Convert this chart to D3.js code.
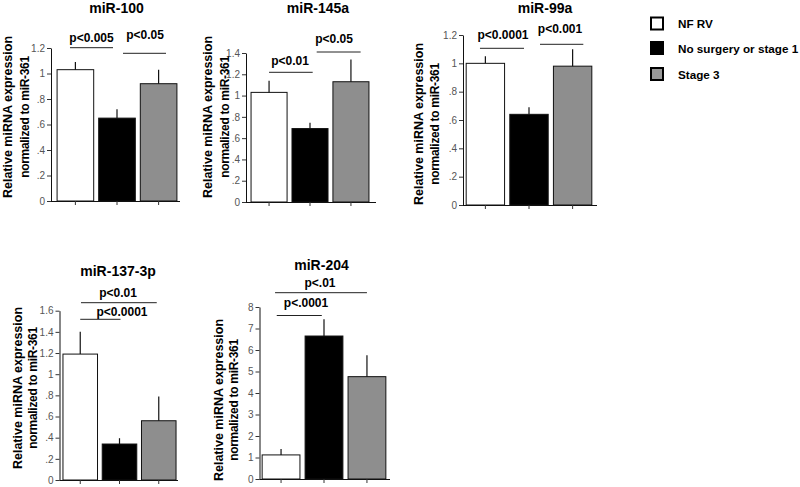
<!DOCTYPE html>
<html><head><meta charset="utf-8">
<script src="https://cdn.jsdelivr.net/npm/d3@7"></script>
<style>
body{margin:0;background:#fff;}
text{font-family:"Liberation Sans",Arial,sans-serif;}
</style></head>
<body><svg id="c" width="800" height="487"></svg>
<script>
// ---------- data ----------
const groups = ["NF RV", "No surgery or stage 1", "Stage 3"];
const groupColors = ["#ffffff", "#000000", "#8e8e8e"];
const titles = ["miR-100", "miR-145a", "miR-99a", "miR-137-3p", "miR-204"];
const yLabelLine1 = "Relative miRNA expression";
const yLabelLine2 = "normalized to miR-361";

const mean100 = [1.03, 0.65, 0.92];
const err100  = [0.06, 0.07, 0.11];
const mean145 = [1.03, 0.69, 1.13];
const err145  = [0.11, 0.055, 0.21];
const mean99  = [1.00, 0.64, 0.98];
const err99   = [0.05, 0.05, 0.12];
const mean137 = [1.19, 0.34, 0.56];
const err137  = [0.21, 0.055, 0.23];
const mean204 = [1.12, 6.65, 4.76];
const err204  = [0.28, 0.78, 1.0];

const ticks100 = [0, 0.2, 0.4, 0.6, 0.8, 1, 1.2];
const ticks145 = [0, 0.2, 0.4, 0.6, 0.8, 1, 1.2, 1.4];
const ticks99  = [0, 0.2, 0.4, 0.6, 0.8, 1, 1.2];
const ticks137 = [0, 0.2, 0.4, 0.6, 0.8, 1, 1.2, 1.4, 1.6];
const ticks204 = [0, 1, 2, 3, 4, 5, 6, 7, 8];

// significance comparisons: [groupA, groupB, label]
const sig100 = [[0, 1, "p<0.005"], [1, 2, "p<0.05"]];
const sig145 = [[0, 1, "p<0.01"], [1, 2, "p<0.05"]];
const sig99  = [[0, 1, "p<0.0001"], [1, 2, "p<0.001"]];
const sig137 = [[0, 2, "p<0.01"], [0, 1, "p<0.0001"]];
const sig204 = [[0, 2, "p<.01"], [0, 1, "p<.0001"]];

// ---------- layout ----------
const panels = [
  {title: titles[0], mean: mean100, err: err100, ticks: ticks100, sig: sig100,
   ax: 51, axEnd: 180, band: [55, 179], y0: 201, yTop: 48,
   titlePos: [116.5, 13], ylab: [12, 29, 117],
   br: [{d1: -5.4, d2: -4, y: 47.7, tx: 91.5, ty: 42}, {d1: 6, d2: 7.4, y: 53.3, tx: 145, ty: 38.5}]},
  {title: titles[1], mean: mean145, err: err145, ticks: ticks145, sig: sig145,
   ax: 246, axEnd: 376, band: [249, 371], y0: 202, yTop: 53,
   titlePos: [318, 13], ylab: [212, 229, 117],
   br: [{d1: 0, d2: 2.7, y: 72.3, tx: 290, ty: 65}, {d1: 6.7, d2: 9.7, y: 52, tx: 334, ty: 43.3}]},
  {title: titles[2], mean: mean99, err: err99, ticks: ticks99, sig: sig99,
   ax: 463, axEnd: 597, band: [464, 594], y0: 205, yTop: 35,
   titlePos: [545, 13], ylab: [423, 439, 124],
   br: [{d1: -5.4, d2: -5, y: 48.3, tx: 503, ty: 39.3}, {d1: 11, d2: 10.7, y: 44.3, tx: 560, ty: 33.3}]},
  {title: titles[3], mean: mean137, err: err137, ticks: ticks137, sig: sig137,
   ax: 59.5, axEnd: 178, band: [61, 178], y0: 480, yTop: 310.7,
   titlePos: [118, 276], ylab: [22, 37, 388],
   br: [{d1: 0.75, d2: -2, y: 302.7, tx: 118, ty: 296.7}, {d1: 0, d2: 1, y: 319.3, tx: 122, ty: 316}]},
  {title: titles[4], mean: mean204, err: err204, ticks: ticks204, sig: sig204,
   ax: 259.5, axEnd: 390, band: [260, 388], y0: 479, yTop: 307,
   titlePos: [321.5, 270], ylab: [223, 238, 400],
   br: [{d1: -6, d2: 0, y: 292.7, tx: 320, ty: 286.7}, {d1: -4.3, d2: -2.2, y: 315.5, tx: 306, ty: 306.7}]}
];

const svg = d3.select("#c");
const fmt = d => d === 0 ? "0" : (d < 1 ? String(d).replace(/^0/, "") : String(d));

panels.forEach(p => {
  const g = svg.append("g");
  const x = d3.scaleBand().domain(d3.range(groups.length)).range(p.band).paddingInner(0.12).paddingOuter(0.05);
  const y = d3.scaleLinear().domain([0, d3.max(p.ticks)]).range([p.y0, p.yTop]);

  // bars
  g.selectAll("rect.bar").data(p.mean).join("rect")
    .attr("x", (d, i) => x(i)).attr("width", x.bandwidth())
    .attr("y", d => y(d)).attr("height", d => y(0) - y(d))
    .attr("fill", (d, i) => groupColors[i])
    .attr("stroke", "#111").attr("stroke-width", 1);

  // error bars (upper only)
  g.selectAll("line.err").data(p.mean).join("line")
    .attr("x1", (d, i) => x(i) + x.bandwidth() / 2).attr("x2", (d, i) => x(i) + x.bandwidth() / 2)
    .attr("y1", d => y(d)).attr("y2", (d, i) => y(d + p.err[i]))
    .attr("stroke", "#111").attr("stroke-width", 1.2);

  // y axis
  const ya = g.append("g").attr("transform", `translate(${p.ax},0)`)
    .call(d3.axisLeft(y).tickValues(p.ticks).tickFormat(fmt).tickSize(4).tickPadding(2).tickSizeOuter(0));
  ya.select(".domain").attr("stroke", "#111");
  ya.selectAll(".tick line").attr("stroke", "#333");
  ya.selectAll("text").attr("font-size", 10).attr("fill", "#555");

  // x axis
  g.append("line").attr("x1", p.ax).attr("x2", p.axEnd).attr("y1", p.y0 + 0.5).attr("y2", p.y0 + 0.5)
    .attr("stroke", "#111");
  g.selectAll("line.xt").data(groups).join("line")
    .attr("x1", (d, i) => x(i) + x.bandwidth() / 2).attr("x2", (d, i) => x(i) + x.bandwidth() / 2)
    .attr("y1", p.y0).attr("y2", p.y0 + 4).attr("stroke", "#333");

  // title
  g.append("text").attr("x", p.titlePos[0]).attr("y", p.titlePos[1])
    .attr("text-anchor", "middle").attr("font-size", 14).attr("font-weight", "bold").text(p.title);

  // y label
  g.append("text").attr("transform", `translate(${p.ylab[0]},${p.ylab[2]}) rotate(-90)`)
    .attr("text-anchor", "middle").attr("font-size", 12.5).attr("font-weight", "bold").text(yLabelLine1);
  g.append("text").attr("transform", `translate(${p.ylab[1]},${p.ylab[2]}) rotate(-90)`)
    .attr("text-anchor", "middle").attr("font-size", 12).attr("letter-spacing", -0.3)
    .attr("font-weight", "bold").text(yLabelLine2);

  // significance brackets
  p.sig.forEach((s, k) => {
    const b = p.br[k];
    const xa = x(s[0]) + x.bandwidth() / 2 + b.d1;
    const xb = x(s[1]) + x.bandwidth() / 2 + b.d2;
    g.append("line").attr("x1", xa).attr("x2", xb).attr("y1", b.y).attr("y2", b.y)
      .attr("stroke", "#222").attr("stroke-width", 1);
    g.append("text").attr("x", b.tx).attr("y", b.ty).attr("text-anchor", "middle")
      .attr("font-size", 12).attr("font-weight", "bold").text(s[2]);
  });
});

// legend
const lg = svg.append("g");
const legendY = [17.5, 42, 68];
groups.forEach((name, i) => {
  lg.append("rect").attr("x", 651).attr("y", legendY[i]).attr("width", 12).attr("height", 12)
    .attr("fill", groupColors[i] === "#8e8e8e" ? "#999" : groupColors[i])
    .attr("stroke", "#000").attr("stroke-width", 2);
  lg.append("text").attr("x", 678).attr("y", legendY[i] + 10.5)
    .attr("font-size", 11.7).attr("font-weight", "bold").text(name);
});
</script>
</body></html>
